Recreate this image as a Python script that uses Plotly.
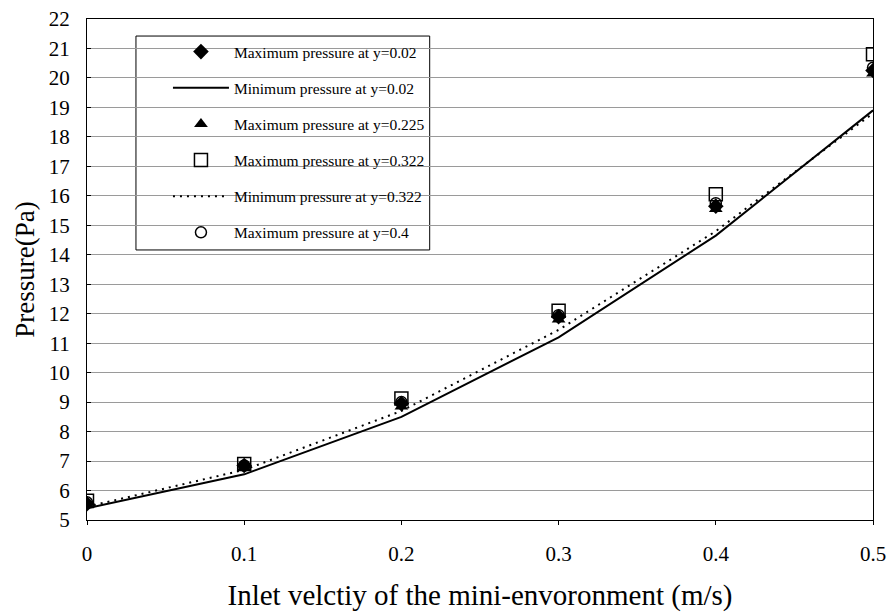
import plotly.graph_objects as go

# Inlet velocity (m/s)
velocity = [0, 0.1, 0.2, 0.3, 0.4, 0.5]

# Pressure (Pa) for each monitored height
max_y002 = [5.55, 6.85, 8.95, 11.9, 15.65, 20.25]
min_y002 = [5.4, 6.55, 8.5, 11.2, 14.65, 18.9]
max_y0225 = [5.5, 6.8, 8.85, 11.8, 15.55, 20.15]
max_y0322 = [5.65, 6.9, 9.12, 12.1, 16.05, 20.8]
min_y0322 = [5.45, 6.7, 8.7, 11.45, 14.8, 18.8]
max_y04 = [5.6, 6.85, 9.0, 11.95, 15.75, 20.35]

y_ticks = list(range(5, 23))
x_ticks = [0, 0.1, 0.2, 0.3, 0.4, 0.5]

FONT = "Liberation Serif, Times New Roman, serif"

fig = go.Figure()

# lines first so the markers sit on top of them
fig.add_trace(go.Scatter(
    x=velocity, y=min_y002, mode="lines", name="Minimum pressure at y=0.02",
    line=dict(color="black", width=2), legendrank=2, legendgroup="b"))
fig.add_trace(go.Scatter(
    x=velocity, y=min_y0322, mode="lines", name="Minimum pressure at y=0.322",
    line=dict(color="black", width=2, dash="2px,5px"), legendrank=5, legendgroup="e"))

fig.add_trace(go.Scatter(
    x=velocity, y=max_y002, mode="markers", name="Maximum pressure at y=0.02",
    marker=dict(symbol="diamond", size=12, color="black"), legendrank=1, legendgroup="a"))
fig.add_trace(go.Scatter(
    x=velocity, y=max_y0225, mode="markers", name="Maximum pressure at y=0.225",
    marker=dict(symbol="triangle-up", size=12, color="black"), legendrank=3, legendgroup="c"))
fig.add_trace(go.Scatter(
    x=velocity, y=max_y0322, mode="markers", name="Maximum pressure at y=0.322",
    marker=dict(symbol="square-open", size=13, color="black", line=dict(width=1.5)),
    legendrank=4, legendgroup="d"))
fig.add_trace(go.Scatter(
    x=velocity, y=max_y04, mode="markers", name="Maximum pressure at y=0.4",
    marker=dict(symbol="circle-open", size=11, color="black", line=dict(width=1.5)),
    legendrank=6, legendgroup="f"))

# legend frame
fig.add_shape(type="rect", xref="paper", yref="paper",
              x0=0.0623, x1=0.436, y0=0.539, y1=0.966,
              line=dict(color="black", width=1), fillcolor="white", layer="below")

fig.update_layout(
    width=888, height=612,
    margin=dict(l=87, r=15, t=19, b=92, autoexpand=False),
    paper_bgcolor="white", plot_bgcolor="white",
    font=dict(family=FONT, color="black"),
    showlegend=True,
    legend=dict(
        x=0.103, y=0.968, xanchor="left", yanchor="top",
        bgcolor="rgba(0,0,0,0)", borderwidth=0,
        font=dict(family=FONT, size=15.5, color="black"),
        tracegroupgap=13, itemwidth=56,
        traceorder="grouped",
    ),
    xaxis=dict(
        range=[0, 0.5], tickvals=x_ticks, ticktext=[f"{v:g}" for v in x_ticks],
        showgrid=False, zeroline=False, automargin=False,
        showline=True, linecolor="black", linewidth=1, mirror=True,
        ticks="outside", ticklen=4, tickcolor="black",
        tickfont=dict(family=FONT, size=21), ticklabelstandoff=11,
        title=dict(text="Inlet velctiy of the mini-envoronment (m/s)",
                   font=dict(family=FONT, size=29), standoff=21),
    ),
    yaxis=dict(
        range=[5, 22], tickvals=y_ticks,
        showgrid=True, gridcolor="#9a9a9a", gridwidth=1, zeroline=False,
        automargin=False,
        showline=True, linecolor="black", linewidth=1, mirror=True,
        ticks="inside", ticklen=4, tickcolor="black",
        tickfont=dict(family=FONT, size=21), ticklabelstandoff=12,
        title=dict(text="Pressure(Pa)", font=dict(family=FONT, size=27), standoff=6),
    ),
)

fig.write_html("out.html")
